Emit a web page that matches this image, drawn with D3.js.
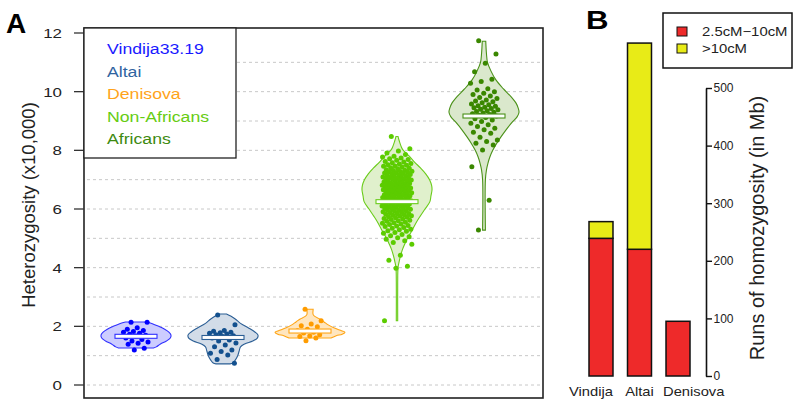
<!DOCTYPE html>
<html><head><meta charset="utf-8">
<script src="https://cdn.jsdelivr.net/npm/d3@7"></script>
<style>body{margin:0;background:#fff}svg{display:block;font-family:"Liberation Sans",Arial,sans-serif}</style>
</head><body><svg id="c" width="800" height="405"></svg>
<script>
// ---------- DATA ----------
const groups = ["Vindija33.19","Altai","Denisova","Non-Africans","Africans"];
const vindijaValues = [2.14,2.14,1.95,1.9,1.86,1.82,1.8,1.76,1.73,1.7,1.67,1.6,1.55,1.5,1.47,1.42,1.39,1.25,1.19];
const altaiValues = [2.39,2.05,1.86,1.83,1.8,1.78,1.76,1.74,1.71,1.68,1.65,1.6,1.53,1.5,1.43,1.36,1.3,1.19,1.14,1.08,1.02,0.87,0.74];
const denisovaValues = [2.58,2.19,2.08,2.02,1.99,1.9,1.85,1.8,1.77,1.71,1.67,1.65,1.6,1.51];
const nonAfricanValues = [8.47,8.05,7.98,7.91,7.86,7.8,7.77,7.74,7.71,7.69,7.66,7.62,7.6,7.58,7.55,7.53,7.51,
 7.49,7.47,7.46,7.43,7.41,7.39,7.37,7.34,7.32,7.31,7.29,7.28,7.27,7.26,
 7.24,7.23,7.21,7.19,7.18,7.16,7.14,7.13,7.11,7.09,7.08,7.07,7.05,7.04,7.03,7.02,7.01,
 6.99,6.98,6.96,6.95,6.93,6.92,6.91,6.89,6.87,6.86,6.85,6.83,6.82,6.81,6.8,6.79,6.78,6.77,6.76,
 6.74,6.73,6.72,6.71,6.7,6.69,6.67,6.66,6.65,6.63,6.62,6.61,6.6,6.58,6.57,6.55,6.54,6.53,6.52,6.51,
 6.49,6.48,6.47,6.45,6.44,6.43,6.41,6.4,6.39,6.37,6.36,6.34,6.33,6.32,6.3,6.29,6.28,6.27,6.26,
 6.24,6.23,6.21,6.2,6.19,6.17,6.16,6.14,6.13,6.11,6.1,6.09,6.07,6.06,6.05,6.03,6.02,6.01,
 5.99,5.97,5.96,5.94,5.92,5.91,5.89,5.87,5.85,5.84,5.82,5.8,5.79,5.77,5.76,
 5.74,5.72,5.7,5.68,5.66,5.64,5.62,5.6,5.58,5.55,5.53,5.51,
 5.49,5.47,5.44,5.42,5.4,5.37,5.34,5.31,5.29,5.26,
 5.24,5.2,5.17,5.13,5.09,5.05,5.02,4.97,4.92,4.86,4.8,4.42,4.25,4.05,3.98,2.19];
const africanValues = [11.74,11.28,10.97,10.68,10.42,10.35,10.29,10.1,10.06,10.0,9.95,9.9,9.85,9.8,9.77,9.72,9.68,9.66,
 9.62,9.58,9.55,9.52,9.5,9.47,9.45,9.43,9.4,9.38,9.35,9.32,9.3,9.27,9.25,9.22,9.2,9.17,9.12,9.08,9.03,8.98,
 8.92,8.87,8.81,8.75,8.7,8.62,8.58,8.45,8.35,8.3,8.24,8.18,8.01,7.44,6.3,5.28];
const medians = [1.66,1.62,1.84,6.25,9.17];
// violin outlines: [value, relative half-width]
const vindijaProfile = [[2.15,0.3],[2.1,0.45],[2.0,0.65],[1.9,0.82],[1.8,0.94],[1.7,1.0],[1.6,0.98],[1.5,0.87],[1.4,0.7],[1.3,0.58],[1.26,0.5]];
const altaiProfile = [[2.42,0.1],[2.35,0.22],[2.25,0.35],[2.1,0.5],[1.95,0.72],[1.8,0.92],[1.7,1.0],[1.6,0.98],[1.5,0.85],[1.4,0.62],[1.3,0.5],[1.15,0.46],[1.0,0.42],[0.85,0.35],[0.75,0.28],[0.72,0.2]];
const denisovaProfile = [[2.58,0.09],[2.4,0.09],[2.33,0.15],[2.25,0.28],[2.15,0.4],[2.05,0.52],[1.95,0.68],[1.85,0.9],[1.8,1.0],[1.73,0.92],[1.68,0.75],[1.6,0.6]];
const nonAfricanProfile = [[8.47,0.03],[8.3,0.07],[8.1,0.13],[8.0,0.18],[7.8,0.35],[7.6,0.5],[7.4,0.67],[7.2,0.82],[7.0,0.93],[6.8,0.99],[6.65,1.0],[6.45,0.97],[6.25,0.94],[6.0,0.8],[5.75,0.66],[5.5,0.53],[5.25,0.42],[5.0,0.3],[4.8,0.22],[4.6,0.15],[4.4,0.1],[4.2,0.06],[4.0,0.03],[3.5,0.02],[2.19,0.02]];
const africanProfile = [[11.72,0.05],[11.3,0.07],[11.0,0.1],[10.7,0.2],[10.4,0.34],[10.1,0.55],[9.83,0.77],[9.6,0.92],[9.43,0.98],[9.3,1.0],[9.15,0.95],[8.95,0.8],[8.7,0.63],[8.45,0.48],[8.25,0.37],[8.0,0.25],[7.78,0.17],[7.55,0.11],[7.33,0.07],[7.0,0.04],[5.28,0.04]];
const yTicksA = [0,2,4,6,8,10,12];
const gridA = [0,1,2,3,4,5,6,7,8,9,10,11];

const rohCategories = ["Vindija","Altai","Denisova"];
const rohShort = [239,220,95];   // 2.5cM-10cM
const rohLong = [29,358,0];      // >10cM
const rohSeries = ["2.5cM\u221210cM",">10cM"];
const yTicksB = [0,100,200,300,400,500];

// ---------- STYLES ----------
const strokeCol = ["#3030ff","#2b5e94","#ffa515","#6acc1a","#4a9118"];
const fillCol   = ["#ccccff","#d2dce8","#ffe6bf","#e0f0cc","#dae8cc"];
const pointCol  = ["#0000ff","#13508e","#ff9c00","#5ccc00","#3a8700"];
const legendCol = ["#1a1aff","#2f64a0","#ffa31a","#66cc11","#3d8a10"];
const jitterW   = [13,14,13,15,14];
const barCol = ["#ee2a2a","#e8eb17"];

const svg = d3.select("#c");
const values = [vindijaValues,altaiValues,denisovaValues,nonAfricanValues,africanValues];
const profiles = [vindijaProfile,altaiProfile,denisovaProfile,nonAfricanProfile,africanProfile];

// ---------- PANEL A ----------
const yA = d3.scaleLinear().domain([0,12]).range([385,33]);
const xA = d3.scalePoint().domain(groups).range([136,484]);
const wA = d3.scaleLinear().domain([0,1]).range([0,35]);
const boxA = {x0:84,y0:28,x1:543,y1:398};

svg.append("g").selectAll("line").data(gridA).join("line")
  .attr("x1",boxA.x0+3).attr("x2",boxA.x1-3)
  .attr("y1",d=>yA(d)).attr("y2",d=>yA(d))
  .attr("stroke","#c8c8c8").attr("stroke-width",1).attr("stroke-dasharray","3,3");

groups.forEach((g,gi)=>{
  const cx = xA(g);
  const area = d3.area().curve(d3.curveCatmullRom.alpha(0.5))
    .y(d=>yA(d[0])).x0(d=>cx-Math.max(wA(d[1]),0.5)).x1(d=>cx+Math.max(wA(d[1]),0.5));
  svg.append("path").datum(profiles[gi]).attr("d",area)
    .attr("fill",fillCol[gi]).attr("stroke",strokeCol[gi]).attr("stroke-width",1.1);
  const gold = 0.6180339887;
  svg.append("g").selectAll("circle").data(values[gi]).join("circle")
    .attr("cx",(d,i)=>cx + (((i*gold+0.31)%1)*2-1)*jitterW[gi])
    .attr("cy",d=>yA(d)).attr("r",2.5).attr("fill",pointCol[gi]);
  svg.append("rect").attr("x",cx-21).attr("width",42)
    .attr("y",yA(medians[gi])-2).attr("height",4)
    .attr("fill","#fff").attr("stroke",strokeCol[gi]).attr("stroke-width",1.1);
});

// box
svg.append("rect").attr("x",boxA.x0).attr("y",boxA.y0).attr("width",boxA.x1-boxA.x0).attr("height",boxA.y1-boxA.y0)
  .attr("fill","none").attr("stroke","#222").attr("stroke-width",1.6);
// y axis A
svg.append("g").selectAll("line").data(yTicksA).join("line")
  .attr("x1",boxA.x0-10).attr("x2",boxA.x0).attr("y1",d=>yA(d)).attr("y2",d=>yA(d))
  .attr("stroke","#333").attr("stroke-width",1.3);
svg.append("g").selectAll("text").data(yTicksA).join("text")
  .attr("transform",d=>`translate(62,${yA(d)}) scale(1.25,1)`)
  .attr("text-anchor","end").attr("dy","0.36em").attr("font-size",13.5).attr("fill","#222").text(d=>d);
svg.append("text").attr("transform","translate(35,205) rotate(-90)")
  .attr("text-anchor","middle").attr("font-size",18.5).attr("fill","#222").text("Heterozygosity (x10,000)");
// legend A
svg.append("rect").attr("x",boxA.x0).attr("y",boxA.y0).attr("width",152).attr("height",130)
  .attr("fill","#fff").attr("stroke","#222").attr("stroke-width",1.3);
svg.append("g").selectAll("text").data(groups).join("text")
  .attr("transform",(d,i)=>`translate(107,${54.3+i*22.4}) scale(1.14,1)`)
  .attr("font-size",15.5).attr("fill",(d,i)=>legendCol[i]).text(d=>d);
svg.append("text").attr("transform","translate(6,33)").attr("font-size",28).attr("font-weight","bold").text("A");

// ---------- PANEL B ----------
const yB = d3.scaleLinear().domain([0,500]).range([376,88]);
const xB = d3.scaleBand().domain(rohCategories).range([589,690]).paddingInner(0.377).paddingOuter(0);
const stack = d3.stack().keys([0,1]).value((d,k)=>d[k]);
const stacked = stack(rohCategories.map((c,i)=>[rohShort[i],rohLong[i]]));
stacked.forEach((layer,li)=>{
  svg.append("g").selectAll("rect").data(layer.map((d,i)=>({d,i})).filter(o=>o.d[1]>o.d[0])).join("rect")
    .attr("x",o=>xB(rohCategories[o.i])).attr("width",xB.bandwidth())
    .attr("y",o=>yB(o.d[1])).attr("height",o=>yB(o.d[0])-yB(o.d[1]))
    .attr("fill",barCol[li]).attr("stroke","#111").attr("stroke-width",1.5);
});
const axB = d3.axisRight(yB).tickValues(yTicksB).tickSize(6).tickSizeOuter(0).tickPadding(1.5);
const gB = svg.append("g").attr("transform","translate(706,0)").call(axB);
gB.select(".domain").attr("stroke","#111").attr("stroke-width",1.6);
gB.selectAll(".tick line").attr("stroke","#111").attr("stroke-width",1.4);
gB.selectAll(".tick text").attr("font-size",12).attr("fill","#222").attr("font-family","Liberation Sans, Arial, sans-serif");
svg.append("text").attr("transform","translate(764,228) rotate(-90)")
  .attr("text-anchor","middle").attr("font-size",20).attr("fill","#222").text("Runs of homozygosity (in Mb)");
// category labels
const anchors = ["end","middle","start"];
svg.append("g").selectAll("text").data(rohCategories).join("text")
  .attr("transform",(d,i)=>{
    const x = anchors[i]==="end" ? xB(d)+xB.bandwidth() : anchors[i]==="middle" ? xB(d)+xB.bandwidth()/2 : xB(d)-3;
    return `translate(${x},395.5) scale(1.17,1)`;})
  .attr("text-anchor",(d,i)=>anchors[i]).attr("font-size",12.6).attr("fill","#222").text(d=>d);
// legend B
svg.append("rect").attr("x",663).attr("y",13).attr("width",129).attr("height",55)
  .attr("fill","#fff").attr("stroke","#111").attr("stroke-width",1.5);
svg.append("g").selectAll("rect").data(rohSeries).join("rect")
  .attr("x",677).attr("y",(d,i)=>27+i*17).attr("width",10).attr("height",9)
  .attr("fill",(d,i)=>barCol[i]).attr("stroke","#111").attr("stroke-width",1);
svg.append("g").selectAll("text").data(rohSeries).join("text")
  .attr("transform",(d,i)=>`translate(702,${35.7+i*17}) scale(1.18,1)`)
  .attr("font-size",12.6).attr("fill","#222").text(d=>d);
svg.append("text").attr("transform","translate(586,29) scale(1.2,1)").attr("font-size",26).attr("font-weight","bold").text("B");
</script></body></html>
